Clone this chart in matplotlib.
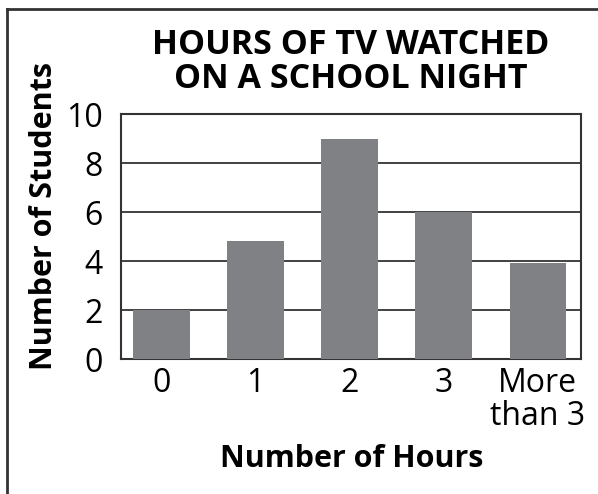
import matplotlib
matplotlib.use("Agg")
import matplotlib.pyplot as plt
from matplotlib.lines import Line2D

categories = ["0", "1", "2", "3", "More\nthan 3"]
students = [2, 4.8, 9, 6, 3.9]
y_ticks = [0, 2, 4, 6, 8, 10]

plt.rcParams["font.family"] = ["Open Sans", "DejaVu Sans"]

fig = plt.figure(figsize=(5.98, 4.94), dpi=100)
W, H = 598, 494
ax = fig.add_axes([121 / W, 1 - 359 / H, 460 / W, 245 / H])

x = range(len(categories))
ax.bar(x, students, width=0.6, color="#808184", zorder=3)
ax.set_xlim(-0.43, 4.46)
ax.set_ylim(0, 10)
ax.set_yticks(y_ticks)
ax.set_xticks(list(x))
ax.set_xticklabels(categories, fontsize=23, va="top", linespacing=1.0)
ax.set_yticklabels([str(t) for t in y_ticks], fontsize=23)
ax.tick_params(axis="y", length=0, pad=13)
ax.tick_params(axis="x", length=0, pad=6)
ax.grid(axis="y", color="#333333", linewidth=1.3, zorder=1)
for s in ax.spines.values():
    s.set_color("#333333")
    s.set_linewidth(1.5)

ax.set_ylabel("Number of Students", fontsize=22, fontweight="bold", va="center")
ax.yaxis.set_label_coords(-0.168, 0.585)
ax.set_xlabel("Number of Hours", fontsize=22, fontweight="bold", va="center")
ax.xaxis.set_label_coords(0.502, -0.41)
fig.text(351 / W, 1 - 62 / H, "HOURS OF TV WATCHED\nON A SCHOOL NIGHT",
         ha="center", va="center", fontsize=24.5, fontweight="bold", linespacing=1.0)

# outer frame (top and left edges only visible)
fig.add_artist(Line2D([7 / W, 1], [1 - 9 / H, 1 - 9 / H], color="#333333", linewidth=2,
                      transform=fig.transFigure))
fig.add_artist(Line2D([7 / W, 7 / W], [0, 1 - 9 / H], color="#333333", linewidth=2,
                      transform=fig.transFigure))

fig.savefig("out.png", dpi=100)
